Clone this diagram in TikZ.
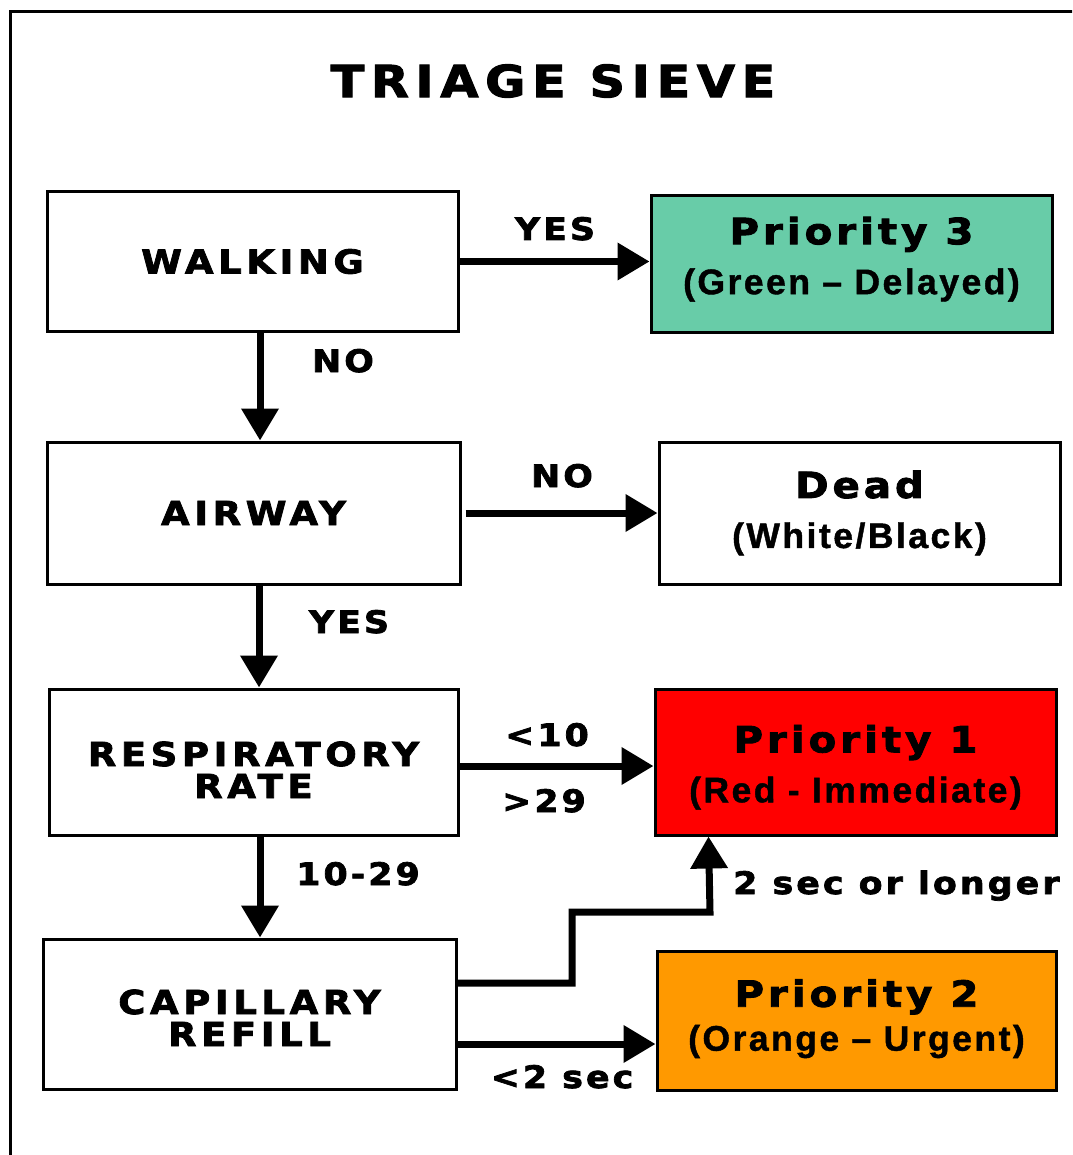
\documentclass[tikz,border=0pt]{standalone}
\usepackage{fontspec}
\usetikzlibrary{arrows.meta,calc}
% heavy, wide face for headings and labels; plain bold for the colour names
\newfontfamily\heavyfont{DejaVu Sans Bold}[FakeStretch=1.12, FakeBold=2.4, LetterSpace=14]
\newfontfamily\plainbold{Liberation Sans Bold}[FakeBold=1.2, LetterSpace=7]
\definecolor{delayedgreen}{RGB}{104,204,168}
\definecolor{immediatered}{RGB}{255,0,0}
\definecolor{urgentorange}{RGB}{255,153,0}

\begin{document}
\begin{tikzpicture}[x=1pt,y=-1pt,
  box/.style={draw=black, line width=3pt, inner sep=0pt, align=center},
  decision/.style={box, font=\fontsize{33}{32}\selectfont\heavyfont},
  outcome/.style={box, minimum width=401, font=\fontsize{35.5}{50}\selectfont},
  flow/.style={line width=7pt, -{Triangle[length=32pt,width=36pt]}},
  lbl/.style={font=\fontsize{31}{31}\selectfont\heavyfont\addfontfeatures{LetterSpace=10}, inner sep=0pt}
]
\clip (0,0) rectangle (1072,1155);
\fill[white] (0,0) rectangle (1072,1155);

% outer frame
\draw[line width=3pt] (10,1170) -- (10,12) -- (1090,12);

% title
\node[font=\fontsize{44}{44}\selectfont\heavyfont\addfontfeatures{LetterSpace=15}] (title) at (553,81) {TRIAGE SIEVE};

% decision boxes
\node[decision, minimum width=411, minimum height=139] (walk) at (252.5,261.5) {WALKING};
\node[decision, minimum width=413, minimum height=142] (air)  at (253.5,513) {AIRWAY};
\node[decision, minimum width=409, minimum height=146] (rr)   at (253.5,762) {\rule{0pt}{40pt}RESPIRATORY\\RATE};
\node[decision, minimum width=413, minimum height=150] (cr)   at (249.5,1014) {\rule{0pt}{32pt}CAPILLARY\\REFILL};

% outcome boxes
\newcommand\headline[1]{{\fontsize{36}{36}\selectfont\heavyfont\addfontfeatures{LetterSpace=11}#1}}
\node[outcome, fill=delayedgreen, minimum height=136] (p3) at (851.5,264)
  {\headline{Priority 3}\\{\plainbold (Green – Delayed)\rule[-17pt]{0pt}{1pt}}};
\node[outcome, fill=white, minimum height=142] (dead) at (859.5,513)
  {\headline{Dead}\\{\plainbold (White/Black)}};
\node[outcome, fill=immediatered, minimum height=146] (p1) at (855.5,762)
  {\rule{0pt}{38pt}\headline{Priority 1}\\{\plainbold (Red - Immediate)}};
\node[outcome, fill=urgentorange, minimum width=399, minimum height=139] (p2) at (856.5,1020.5)
  {\headline{Priority 2}\\[-6pt]{\plainbold (Orange – Urgent)\rule[-11pt]{0pt}{1pt}}};

% connectors
\draw[flow] (walk.east) -- (walk.east -| p3.west);
\draw[flow] ([xshift=7.5pt]walk.south) -- ([xshift=7.5pt]walk.south |- air.north);
\draw[flow, shorten <=4pt] (air.east) -- (air.east -| dead.west);
\draw[flow] ([xshift=5.5pt]air.south) -- ([xshift=5.5pt]air.south |- rr.north);
\draw[flow] ([yshift=-4pt]rr.east) -- ([yshift=-4pt]rr.east -| p1.west);
\draw[flow] ([xshift=6.5pt]rr.south) -- ([xshift=6.5pt]rr.south |- cr.north);
\coordinate (upA) at (572,983);
\coordinate (upB) at (710,912);
\draw[flow] ([yshift=31pt]cr.east) -- (upA) |- (upB) -- ([xshift=55pt]p1.south west);
\draw[flow] ([yshift=-30pt]cr.east) -- ([yshift=-30pt]cr.east -| p2.west);

% connector labels
\node[lbl, anchor=base] (yes1) at (555,240) {YES};
\node[lbl, anchor=base] (no1) at (343,372) {NO};
\node[lbl, anchor=base] (no2) at (562,487) {NO};
\node[lbl, anchor=base] (yes2) at (349,633) {YES};
\node[lbl, anchor=base] (lt10) at (547,746) {<10};
\node[lbl, anchor=base] (gt29) at (544,812) {>29};
\node[lbl, anchor=base] (norm) at (358,885) {10-29};
\node[lbl, anchor=base west] (slow) at (733,894) {2 sec or longer};
\node[lbl, anchor=base] (fast) at (562,1088) {<2 sec};
\end{tikzpicture}
\end{document}
